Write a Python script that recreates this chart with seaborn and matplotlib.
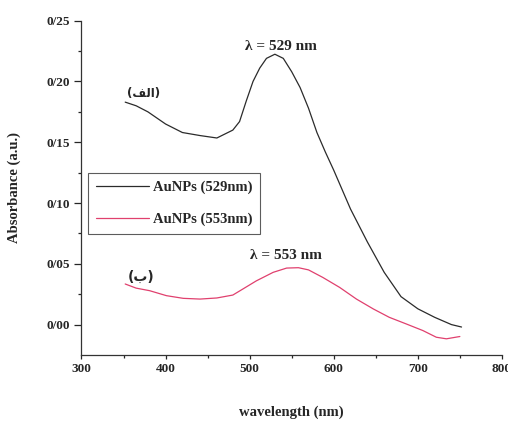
import numpy as np
import pandas as pd
import matplotlib
matplotlib.use('Agg')
import matplotlib.pyplot as plt
import seaborn as sns

# data
wl_529 = [352, 365, 379, 400, 420, 441, 461, 480, 488, 496, 504, 512, 520, 530, 540, 550, 560, 570, 580,
          590, 600, 620, 640, 660, 680, 700, 720, 740, 752]
abs_529 = [0.183, 0.180, 0.175, 0.165, 0.158, 0.1555, 0.1535, 0.160, 0.167, 0.184, 0.200, 0.211, 0.219, 0.2224,
           0.219, 0.208, 0.195, 0.178, 0.158, 0.142, 0.127, 0.095, 0.068, 0.043, 0.023, 0.013, 0.006, 0.000, -0.002]

wl_553 = [352, 365, 381, 401, 421, 441, 461, 480, 492, 508, 528, 544, 558, 570, 587, 607, 627, 647, 666, 686,
          706, 722, 734, 750]
abs_553 = [0.0334, 0.030, 0.0279, 0.0238, 0.0216, 0.021, 0.0219, 0.0243, 0.0293, 0.036, 0.043, 0.0465, 0.0468,
           0.045, 0.0388, 0.0306, 0.021, 0.0129, 0.006, 0.0006, -0.0049, -0.0104, -0.0117, -0.0098]

series_names = ['AuNPs (529nm)', 'AuNPs (553nm)']
x_ticks = [300, 400, 500, 600, 700, 800]
y_ticks = [0.0, 0.05, 0.10, 0.15, 0.20, 0.25]
y_tick_labels = ['0/00', '0/05', '0/10', '0/15', '0/20', '0/25']

df = pd.concat([
    pd.DataFrame({'wavelength': wl_529, 'absorbance': abs_529, 'sample': series_names[0]}),
    pd.DataFrame({'wavelength': wl_553, 'absorbance': abs_553, 'sample': series_names[1]}),
])

sns.set_style('ticks')
plt.rcParams['font.family'] = ['Liberation Serif', 'DejaVu Sans']
plt.rcParams['font.weight'] = 'bold'

fig = plt.figure(figsize=(5.08, 4.22), dpi=100)
ax = fig.add_axes([0.1604, 0.1588, 0.8276, 0.7922])

sns.lineplot(data=df, x='wavelength', y='absorbance', hue='sample', sort=False,
             palette=['#2b2b2b', '#e0406e'], linewidth=0.9, ax=ax)

ax.set_xlim(300, 800)
ax.set_ylim(-0.025, 0.25)
ax.set_xticks(x_ticks)
ax.set_xticklabels([str(t) for t in x_ticks])
ax.set_xticks([350, 450, 550, 650, 750], minor=True)
ax.set_yticks(y_ticks)
ax.set_yticklabels(y_tick_labels)
ax.set_yticks([0.025, 0.075, 0.125, 0.175, 0.225], minor=True)
ax.tick_params(axis='y', which='major', labelsize=9.5, length=5, width=0.9, pad=3.5)
ax.tick_params(axis='x', which='major', labelsize=9.5, length=3, width=0.9, pad=2.5)
ax.tick_params(axis='both', which='minor', length=2.5, width=0.9)
for s in ['left', 'bottom']:
    ax.spines[s].set_linewidth(0.9)
    ax.spines[s].set_color('#333333')
sns.despine(ax=ax)

ax.set_xlabel('wavelength (nm)', fontsize=10.5, fontweight='bold', labelpad=22)
ax.set_ylabel('Absorbance (a.u.)', fontsize=10.5, fontweight='bold', labelpad=18)

ax.text(537, 0.2287, '\u03bb = 529 nm', ha='center', va='center', fontsize=11, fontweight='bold')
ax.text(543, 0.0566, '\u03bb = 553 nm', ha='center', va='center', fontsize=11, fontweight='bold')
ax.text(374, 0.190, '(\uFED2\uFEDF\uFE8D)', ha='center', va='center', fontsize=8.5,
        family=['DejaVu Sans'], fontweight='bold')
ax.text(371, 0.0393, '(\uFE8F)', ha='center', va='center', fontsize=10,
        family=['DejaVu Sans'], fontweight='bold')

leg = ax.legend(loc='upper left', bbox_to_anchor=(0.0155, 0.5444), borderaxespad=0, fontsize=10.5,
                frameon=True, fancybox=False, edgecolor='#333333', handlelength=3.6, handletextpad=0.3,
                borderpad=0.55, labelspacing=1.25, title=None)
leg.get_frame().set_linewidth(0.8)
for t in leg.get_texts():
    t.set_fontweight('bold')

fig.savefig('out.png', dpi=100)
